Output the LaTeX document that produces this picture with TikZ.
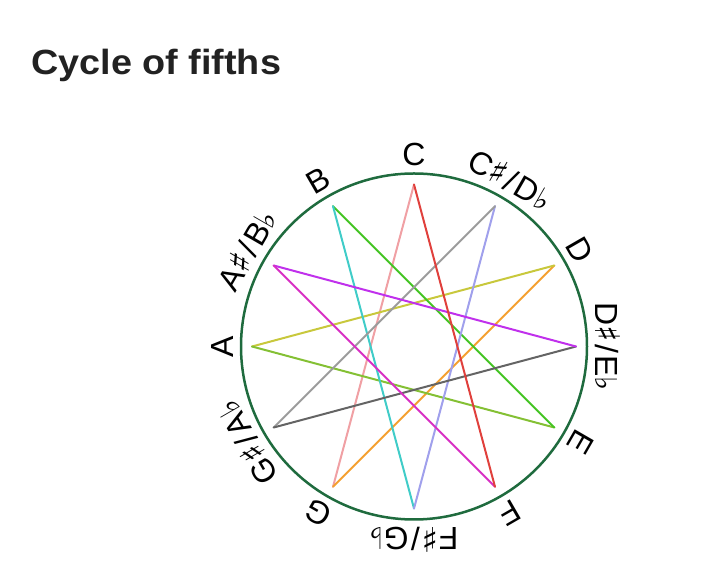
\documentclass[tikz,border=0pt]{standalone}
\usepackage{fontspec}
\setmainfont{Liberation Sans}
\newfontfamily\musicfont{DejaVu Sans}
\newfontfamily\titlefont{Liberation Sans}[FakeStretch=1.08]
\definecolor{ringgreen}{HTML}{1F6B3E}
\definecolor{titlegray}{HTML}{222222}
\definecolor{cpink}{HTML}{F0A0A4}
\definecolor{corange}{HTML}{F4A030}
\definecolor{cyellow}{HTML}{C8C83C}
\definecolor{clime}{HTML}{84C034}
\definecolor{cgreen}{HTML}{44C424}
\definecolor{ccyan}{HTML}{40CCC8}
\definecolor{clavender}{HTML}{A0A0EC}
\definecolor{cgray}{HTML}{9C9C9C}
\definecolor{cdarkgray}{HTML}{646464}
\definecolor{cviolet}{HTML}{C030EC}
\definecolor{cmagenta}{HTML}{D830C4}
\definecolor{cred}{HTML}{E0403C}
\newcommand{\sharpsym}{{\musicfont\fontsize{34}{34}\selectfont ♯}}
\newcommand{\flatsym}{{\musicfont\fontsize{30}{30}\selectfont ♭}}
\newcommand{\slashsym}{\kern2.5pt/\kern2.5pt}

\begin{document}
\begin{tikzpicture}[x=1pt,y=1pt]
		\tikzset{
			notelabel/.style={anchor=base,inner sep=0pt,text=black,font=\fontsize{32}{36}\selectfont},
		}
		\tikzset{
			edge/.style={line width=2pt,line cap=round},
		}
		\newcommand{\rs}{162}
		\newcommand{\rl}{181}
		
		\useasboundingbox (0,0) rectangle (705,567);
		\node[anchor=base west,inner sep=0pt,text=titlegray,font=\titlefont\fontsize{35}{40}\selectfont\bfseries] (title) at (31,492) {Cycle of fifths};
		
		\draw[ringgreen,line width=2.5pt] (414,220.5) circle (173);
		
		\begin{scope}[shift={(414,220.5)}]
		\coordinate (C) at (90:\rs);
		\coordinate (Cs) at (60:\rs);
		\coordinate (D) at (30:\rs);
		\coordinate (Ds) at (0:\rs);
		\coordinate (E) at (-30:\rs);
		\coordinate (F) at (-60:\rs);
		\coordinate (Fs) at (-90:\rs);
		\coordinate (G) at (-120:\rs);
		\coordinate (Gs) at (-150:\rs);
		\coordinate (A) at (180:\rs);
		\coordinate (As) at (150:\rs);
		\coordinate (B) at (120:\rs);
		
		\node[notelabel,rotate=0] (labC) at (90:\rl) {C};
		\node[notelabel,rotate=-30] (labCs) at (60:\rl) {C\sharpsym\slashsym D\flatsym};
		\node[notelabel,rotate=-60] (labD) at (30:\rl) {D};
		\node[notelabel,rotate=-90] (labDs) at (0:\rl) {D\sharpsym\slashsym E\flatsym};
		\node[notelabel,rotate=-120] (labE) at (-30:\rl) {E};
		\node[notelabel,rotate=-150] (labF) at (-60:\rl) {F};
		\node[notelabel,rotate=180] (labFs) at (-90:\rl) {F\sharpsym\slashsym G\flatsym};
		\node[notelabel,rotate=150] (labG) at (-120:\rl) {G};
		\node[notelabel,rotate=120] (labGs) at (-150:\rl) {G\sharpsym\slashsym A\flatsym};
		\node[notelabel,rotate=90] (labA) at (180:\rl) {A};
		\node[notelabel,rotate=60] (labAs) at (150:\rl) {A\sharpsym\slashsym B\flatsym};
		\node[notelabel,rotate=30] (labB) at (120:\rl) {B};
		
		\draw[edge,cpink] (C) to (G);
		\draw[edge,corange] (G) to (D);
		\draw[edge,cyellow] (D) to (A);
		\draw[edge,clime] (A) to (E);
		\draw[edge,cgreen] (E) to (B);
		\draw[edge,ccyan] (B) to (Fs);
		\draw[edge,clavender] (Fs) to (Cs);
		\draw[edge,cgray] (Cs) to (Gs);
		\draw[edge,cdarkgray] (Gs) to (Ds);
		\draw[edge,cviolet] (Ds) to (As);
		\draw[edge,cmagenta] (As) to (F);
		\draw[edge,cred] (F) to (C);
		\end{scope}
	\end{tikzpicture}
\end{document}
